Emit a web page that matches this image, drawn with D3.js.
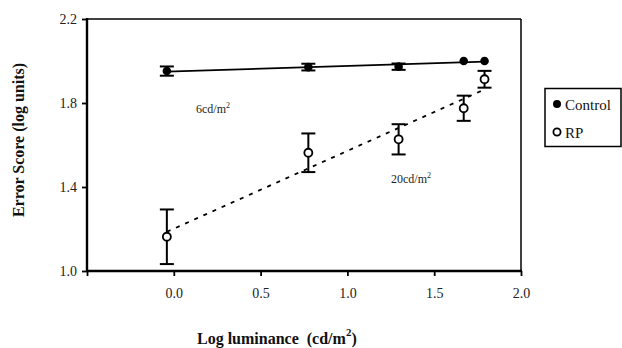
<!DOCTYPE html>
<html><head><meta charset="utf-8">
<script src="https://cdn.jsdelivr.net/npm/d3@7"></script>
<style>body{margin:0;background:#fff}svg{display:block}
svg text{font-family:"Liberation Serif","Times New Roman",Times,"DejaVu Serif",serif}</style>
</head><body>
<svg id="c" width="622" height="348"></svg>
<script>
const xTicks = [-0.5, 0.0, 0.5, 1.0, 1.5, 2.0];
const yTicks = [1.0, 1.4, 1.8, 2.2];
const lumX = [-0.04, 0.775, 1.295, 1.67, 1.79];
const controlY = [1.952, 1.971, 1.973, 2.0, 2.0];
const controlErr = [0.022, 0.016, 0.015, 0, 0];
const rpY = [1.163, 1.563, 1.627, 1.775, 1.913];
const rpErr = [0.13, 0.092, 0.072, 0.06, 0.04];
const seriesNames = ["Control", "RP"];

const svg = d3.select("#c");
const L = 87, R = 521, T = 19, B = 271;
const x = d3.scaleLinear().domain([-0.5, 2.0]).range([L, R]);
const y = d3.scaleLinear().domain([1.0, 2.2]).range([B, T]);

// frame top/right
svg.append("line").attr("x1", L).attr("x2", R).attr("y1", T).attr("y2", T).attr("stroke", "#000").attr("stroke-width", 1.5);
svg.append("line").attr("x1", R).attr("x2", R).attr("y1", T).attr("y2", B).attr("stroke", "#000").attr("stroke-width", 1.5);

// axes
const xAxis = svg.append("g").attr("transform", `translate(0,${B})`)
  .call(d3.axisBottom(x).tickValues(xTicks).tickSize(5).tickPadding(12)
    .tickFormat(d => d < 0 ? "" : d3.format(".1f")(d)));
const yAxis = svg.append("g").attr("transform", `translate(${L},0)`)
  .call(d3.axisLeft(y).tickValues(yTicks).tickSize(5).tickPadding(5).tickFormat(d3.format(".1f")));
[xAxis, yAxis].forEach(g => {
  g.attr("font-family", null);
  g.select(".domain").remove();
  g.selectAll(".tick line").attr("stroke-width", 1.8);
  g.selectAll("text").attr("font-size", 14).attr("fill", "#222");
});
svg.append("line").attr("x1", L).attr("x2", R + 1).attr("y1", B).attr("y2", B).attr("stroke", "#000").attr("stroke-width", 2.4);
svg.append("line").attr("x1", L).attr("x2", L).attr("y1", T - 1).attr("y2", B).attr("stroke", "#000").attr("stroke-width", 2.4);

// regression lines
function fit(xs, ys) {
  const mx = d3.mean(xs), my = d3.mean(ys);
  const sxy = d3.sum(xs, (v, i) => (v - mx) * (ys[i] - my));
  const sxx = d3.sum(xs, v => (v - mx) * (v - mx));
  const b = sxy / sxx, a = my - b * mx;
  const x0 = d3.min(xs), x1 = d3.max(xs);
  return [[x0, a + b * x0], [x1, a + b * x1]];
}
const line = d3.line().x(d => x(d[0])).y(d => y(d[1]));
svg.append("path").attr("d", line(fit(lumX, controlY))).attr("stroke", "#000").attr("stroke-width", 1.8).attr("fill", "none");
svg.append("path").attr("d", line(fit(lumX, rpY))).attr("stroke", "#000").attr("stroke-width", 1.8)
  .attr("stroke-dasharray", "4,6").attr("fill", "none");

// error bars
function errBars(ys, es) {
  const g = svg.append("g").attr("stroke", "#000").attr("stroke-width", 2);
  lumX.forEach((xv, i) => {
    if (es[i] <= 0) return;
    const cx = x(xv), y1 = y(ys[i] + es[i]), y2 = y(ys[i] - es[i]);
    g.append("line").attr("x1", cx).attr("x2", cx).attr("y1", y1).attr("y2", y2);
    g.append("line").attr("x1", cx - 7).attr("x2", cx + 7).attr("y1", y1).attr("y2", y1);
    g.append("line").attr("x1", cx - 7).attr("x2", cx + 7).attr("y1", y2).attr("y2", y2);
  });
}
errBars(controlY, controlErr);
errBars(rpY, rpErr);

// points
svg.append("g").selectAll("circle").data(lumX).join("circle")
  .attr("cx", d => x(d)).attr("cy", (d, i) => y(controlY[i])).attr("r", 4.3).attr("fill", "#000");
svg.append("g").selectAll("circle").data(lumX).join("circle")
  .attr("cx", d => x(d)).attr("cy", (d, i) => y(rpY[i])).attr("r", 4).attr("fill", "#fff")
  .attr("stroke", "#000").attr("stroke-width", 1.8);

// annotations
function ann(tx, ty, num) {
  const t = svg.append("text").attr("x", tx).attr("y", ty).attr("font-size", 12).attr("fill", "#222");
  t.append("tspan").text(num + "cd/m");
  t.append("tspan").attr("dy", -5).attr("font-size", 8).text("2");
}
ann(196, 113, "6");
ann(391, 183, "20");

// axis titles
const xt = svg.append("text").attr("x", 197).attr("y", 344)
  .attr("font-size", 16).attr("font-weight", "bold").attr("fill", "#111");
xt.append("tspan").text("Log luminance\u00a0 (cd/m");
xt.append("tspan").attr("dy", -8).attr("font-size", 11).text("2");
xt.append("tspan").attr("dy", 8).text(")");

svg.append("text").attr("transform", "translate(24,140) rotate(-90)").attr("text-anchor", "middle")
  .attr("font-size", 16).attr("font-weight", "bold").attr("fill", "#111")
  .text("Error Score (log units)");

// legend
const lg = svg.append("g");
lg.append("rect").attr("x", 545).attr("y", 88.5).attr("width", 76).attr("height", 58)
  .attr("fill", "#fff").attr("stroke", "#000").attr("stroke-width", 1.5);
seriesNames.forEach((n, i) => {
  const cy = 104 + i * 28;
  lg.append("circle").attr("cx", 557).attr("cy", cy).attr("r", i === 0 ? 4 : 3.6)
    .attr("fill", i === 0 ? "#000" : "#fff").attr("stroke", "#000").attr("stroke-width", i === 0 ? 0 : 1.8);
  lg.append("text").attr("x", 565).attr("y", cy + 5.5).attr("font-size", 15)
    .attr("fill", "#111").text(n);
});
</script>
</body></html>
